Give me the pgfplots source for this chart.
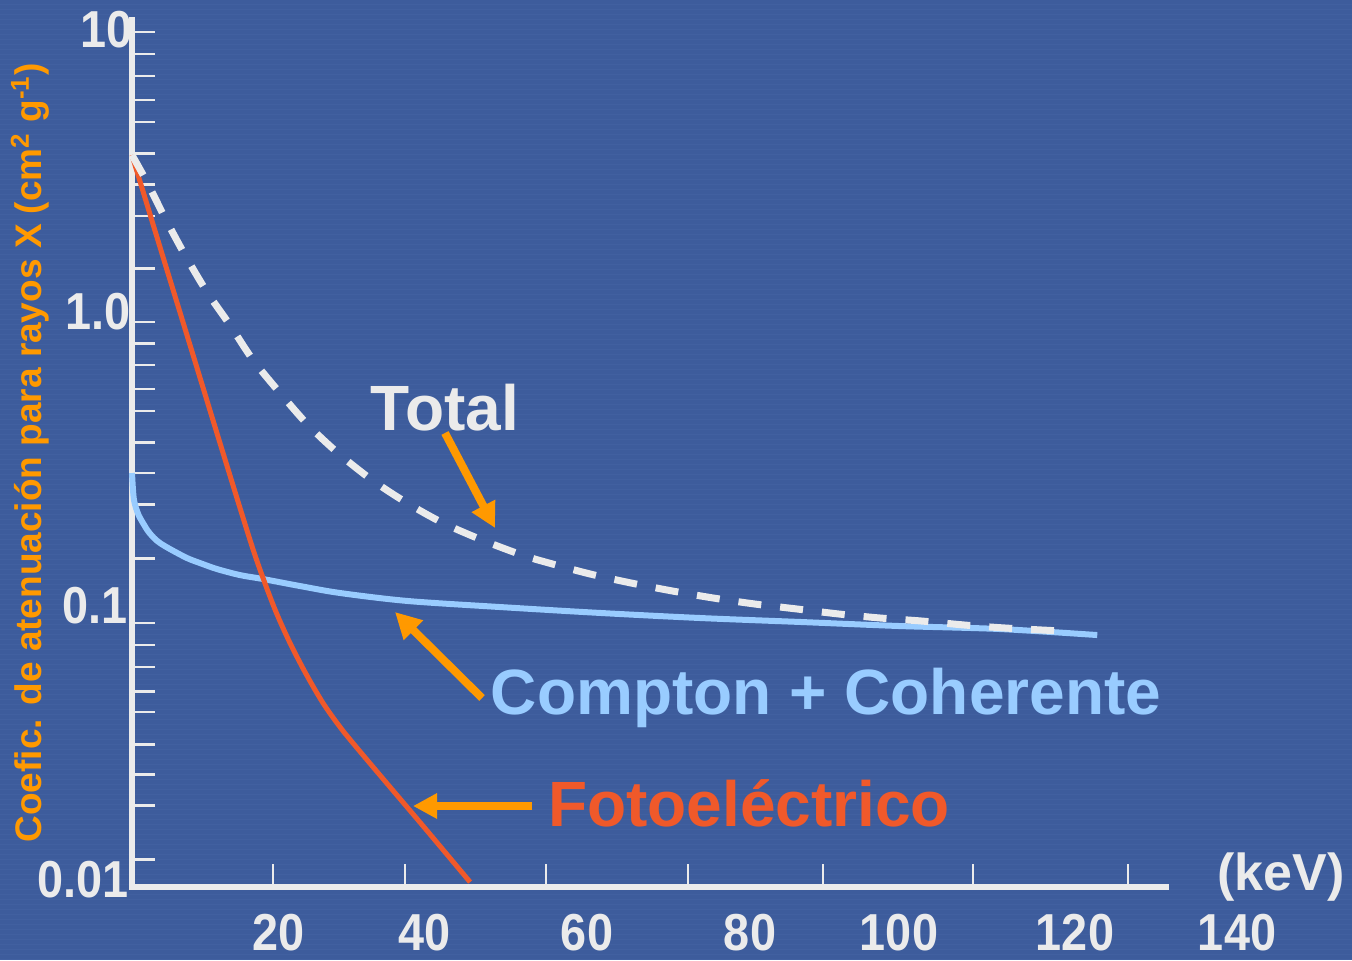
\documentclass[border=0pt]{standalone}
\usepackage{fontspec}
\setmainfont{Liberation Sans}
\newfontfamily\tickfont[FakeStretch=0.9]{Liberation Sans}
\usepackage{pgfplots}
\pgfplotsset{compat=1.18}
\usetikzlibrary{arrows.meta}
\definecolor{bg}{HTML}{3D5C9C}
\definecolor{bgstripe}{HTML}{4767A7}
\definecolor{axwhite}{HTML}{EBEBEB}
\definecolor{photored}{HTML}{F0592A}
\definecolor{comptonblue}{HTML}{99CCFF}
\definecolor{arroworange}{HTML}{FF9900}

\pgfplotstableread{
x y
0.00 3.588
2.11 2.918
4.65 2.216
7.46 1.670
10.56 1.258
13.80 0.977
17.04 0.748
20.85 0.581
24.79 0.455
29.01 0.367
33.80 0.2986
38.73 0.2505
43.80 0.2149
49.30 0.1887
54.93 0.1682
58.73 0.1582
64.51 0.1455
70.28 0.1358
76.06 0.1278
81.83 0.1211
87.75 0.1156
93.66 0.1113
99.58 0.1071
105.35 0.1039
111.27 0.1015
117.18 0.0985
123.10 0.0962
131.13 0.0940
}\total

\pgfplotstableread{
x y
0.00 0.315
0.14 0.2766
0.28 0.2563
0.56 0.2411
0.99 0.2267
1.55 0.2149
2.25 0.2021
3.10 0.1916
3.94 0.1844
5.35 0.1761
7.75 0.1644
9.58 0.1582
11.97 0.1511
15.21 0.1443
18.45 0.1400
23.66 0.1327
29.30 0.1258
38.73 0.1184
51.83 0.1130
65.92 0.1080
80.00 0.1039
94.08 0.1008
108.17 0.0977
122.25 0.0955
135.92 0.0912
}\compton

\pgfplotstableread{
x y
0.00 3.588
3.94 1.775
8.17 0.8386
12.39 0.3963
16.62 0.1887
18.45 0.1411
20.28 0.1088
22.25 0.0858
24.51 0.0677
26.90 0.0542
29.30 0.0451
31.69 0.03844
36.34 0.0285
40.99 0.02116
47.61 0.01378
}\photo

\begin{document}
\begin{tikzpicture}
\useasboundingbox (0,0) rectangle (676pt,480pt);
\fill[bg] (0,0) rectangle (676pt,480pt);
\foreach \k in {0,2.5,...,480} {\fill[bgstripe, opacity=0.45] (0,\k pt) rectangle (676pt,\k pt+0.6pt);}
\begin{axis}[
  at={(66pt,36.5pt)}, anchor=south west,
  scale only axis, width=517pt, height=433.5pt,
  xmin=0, xmax=145.6, ymin=0.01327, ymax=10.08, ymode=log,
  axis x line*=bottom, axis y line*=left,
  axis line style={line width=2.6pt, color=axwhite, line cap=rect},
  tick align=inside,
  major tick length=11.5pt,
  xtick={19.86,38.45,58.31,78.31,97.32,118.38,140.21},
  xticklabels={},
  ytick={9.19,7.77,6.57,5.47,4.62,3.64,2.87,2.25,1.51,1.0,0.851,0.720,0.599,0.506,0.399,0.315,0.248,0.164,0.1,0.0845,0.0714,0.0594,0.0506,0.0396,0.0313,0.0247,0.0164},
  yticklabels={},
  yminorticks=false, xminorticks=false,
  x tick style={line width=1pt, color=axwhite},
  y tick style={line width=1.4pt, color=axwhite},
  clip=false,
]
\addplot[comptonblue, line width=3pt, smooth] table[x=x,y=y] {\compton};
\addplot[photored, line width=2.5pt, smooth] table[x=x,y=y] {\photo};
\addplot[axwhite, line width=3.5pt, dash pattern=on 11.5pt off 9.5pt, smooth] table[x=x,y=y] {\total};
\end{axis}
\begin{scope}[x=0.5pt, y=-0.5pt, shift={(0pt,480pt)}]
  \begin{scope}[every node/.style={inner sep=0pt, text=axwhite, font=\tickfont\bfseries\fontsize{26}{28}\selectfont}]
    \node[anchor=east] at (133,30) {10};
    \node[anchor=east] at (131,312) {1.0};
    \node[anchor=east] at (128,606) {0.1};
    \node[anchor=east] at (129,880) {0.01};
    \node at (279,933) {20};
    \node at (425,933) {40};
    \node at (587,933) {60};
    \node at (750,933) {80};
    \node at (899,933) {100};
    \node at (1075,933) {120};
    \node at (1237,933) {140};
  \end{scope}
  \node[inner sep=0pt, text=axwhite, font=\bfseries\fontsize{26}{28}\selectfont] at (1281,877) {(keV)};
  \node[rotate=90, inner sep=0pt, text=arroworange, font=\bfseries\fontsize{18.5}{20}\selectfont] at (30,453)
    {Coefic. de atenuación para rayos X (cm\textsuperscript{2} g\textsuperscript{-1})};
  \draw[arroworange, line width=4pt, -{Triangle[length=12.5pt,width=12.5pt]}] (445,433) -- (495,528);
  \draw[arroworange, line width=4pt, -{Triangle[length=13pt,width=13pt]}] (482,698) -- (395,612);
  \draw[arroworange, line width=4.2pt, -{Triangle[length=12pt,width=12pt]}] (532,806) -- (413,806);
  \node[anchor=base, inner sep=0pt, text=axwhite, font=\bfseries\fontsize{32}{34}\selectfont] at (445,430) {Total};
  \node[anchor=base, inner sep=0pt, text=comptonblue, font=\bfseries\fontsize{32}{34}\selectfont] at (826,714) {Compton + Coherente};
  \node[anchor=base, inner sep=0pt, text=photored, font=\bfseries\fontsize{32}{34}\selectfont] at (749,826) {Fotoeléctrico};
\end{scope}
\end{tikzpicture}
\end{document}
